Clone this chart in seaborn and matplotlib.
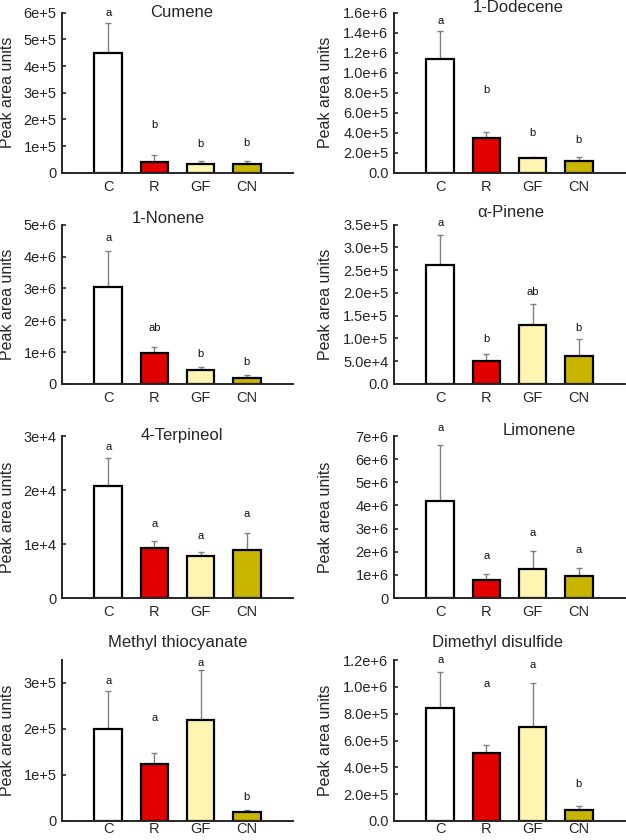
import numpy as np
import pandas as pd
import matplotlib
matplotlib.use("Agg")
import matplotlib.pyplot as plt
import seaborn as sns

# ---------------- data ----------------
treatments = ["C", "R", "GF", "CN"]
bar_colors = ["#ffffff", "#e30000", "#fff5b3", "#c9b400"]

cumene_mean = [4.50e5, 0.40e5, 0.33e5, 0.31e5]
cumene_err = [1.10e5, 0.27e5, 0.12e5, 0.11e5]
cumene_letters = ["a", "b", "b", "b"]
cumene_letter_y = [5.98e5, 1.79e5, 1.08e5, 1.13e5]
cumene_ticks = [0, 1e5, 2e5, 3e5, 4e5, 5e5, 6e5]
cumene_ticklabels = ["0", "1e+5", "2e+5", "3e+5", "4e+5", "5e+5", "6e+5"]

dodecene_mean = [1.14e6, 0.351e6, 0.147e6, 0.117e6]
dodecene_err = [0.28e6, 0.06e6, 0.013e6, 0.043e6]
dodecene_letters = ["a", "b", "b", "b"]
dodecene_letter_y = [1.52e6, 0.83e6, 0.40e6, 0.33e6]
dodecene_ticks = [0, 2e5, 4e5, 6e5, 8e5, 1.0e6, 1.2e6, 1.4e6, 1.6e6]
dodecene_ticklabels = ["0.0", "2.0e+5", "4.0e+5", "6.0e+5", "8.0e+5",
                       "1.0e+6", "1.2e+6", "1.4e+6", "1.6e+6"]

nonene_mean = [3.03e6, 0.96e6, 0.44e6, 0.20e6]
nonene_err = [1.13e6, 0.19e6, 0.09e6, 0.07e6]
nonene_letters = ["a", "ab", "b", "b"]
nonene_letter_y = [4.58e6, 1.75e6, 0.93e6, 0.68e6]
nonene_ticks = [0, 1e6, 2e6, 3e6, 4e6, 5e6]
nonene_ticklabels = ["0", "1e+6", "2e+6", "3e+6", "4e+6", "5e+6"]

pinene_mean = [2.61e5, 0.51e5, 1.29e5, 0.61e5]
pinene_err = [0.67e5, 0.15e5, 0.47e5, 0.37e5]
pinene_letters = ["a", "b", "ab", "b"]
pinene_letter_y = [3.54e5, 0.98e5, 2.02e5, 1.22e5]
pinene_ticks = [0, 5e4, 1.0e5, 1.5e5, 2.0e5, 2.5e5, 3.0e5, 3.5e5]
pinene_ticklabels = ["0.0", "5.0e+4", "1.0e+5", "1.5e+5", "2.0e+5",
                     "2.5e+5", "3.0e+5", "3.5e+5"]

terpineol_mean = [2.08e4, 0.92e4, 0.77e4, 0.88e4]
terpineol_err = [0.51e4, 0.13e4, 0.08e4, 0.32e4]
terpineol_letters = ["a", "a", "a", "a"]
terpineol_letter_y = [2.79e4, 1.37e4, 1.15e4, 1.56e4]
terpineol_ticks = [0, 1e4, 2e4, 3e4]
terpineol_ticklabels = ["0", "1e+4", "2e+4", "3e+4"]

limonene_mean = [4.20e6, 0.76e6, 1.24e6, 0.94e6]
limonene_err = [2.41e6, 0.28e6, 0.81e6, 0.34e6]
limonene_letters = ["a", "a", "a", "a"]
limonene_letter_y = [7.34e6, 1.80e6, 2.83e6, 2.08e6]
limonene_ticks = [0, 1e6, 2e6, 3e6, 4e6, 5e6, 6e6, 7e6]
limonene_ticklabels = ["0", "1e+6", "2e+6", "3e+6", "4e+6", "5e+6", "6e+6", "7e+6"]

methyl_mean = [2.01e5, 1.24e5, 2.20e5, 0.20e5]
methyl_err = [0.82e5, 0.23e5, 1.08e5, 0.03e5]
methyl_letters = ["a", "a", "a", "b"]
methyl_letter_y = [3.05e5, 2.24e5, 3.43e5, 0.52e5]
methyl_ticks = [0, 1e5, 2e5, 3e5]
methyl_ticklabels = ["0", "1e+5", "2e+5", "3e+5"]

dimethyl_mean = [0.844e6, 0.507e6, 0.698e6, 0.083e6]
dimethyl_err = [0.27e6, 0.058e6, 0.33e6, 0.027e6]
dimethyl_letters = ["a", "a", "a", "b"]
dimethyl_letter_y = [1.20e6, 1.02e6, 1.16e6, 0.276e6]
dimethyl_ticks = [0, 2e5, 4e5, 6e5, 8e5, 1.0e6, 1.2e6]
dimethyl_ticklabels = ["0.0", "2.0e+5", "4.0e+5", "6.0e+5", "8.0e+5", "1.0e+6", "1.2e+6"]

titles = ["Cumene", "1-Dodecene", "1-Nonene", "α-Pinene",
          "4-Terpineol", "Limonene", "Methyl thiocyanate", "Dimethyl disulfide"]
ylims = [6e5, 1.6e6, 5e6, 3.5e5, 3e4, 7e6, 3.5e5, 1.2e6]

panels = [
    (cumene_mean, cumene_err, cumene_letters, cumene_letter_y, cumene_ticks, cumene_ticklabels),
    (dodecene_mean, dodecene_err, dodecene_letters, dodecene_letter_y, dodecene_ticks, dodecene_ticklabels),
    (nonene_mean, nonene_err, nonene_letters, nonene_letter_y, nonene_ticks, nonene_ticklabels),
    (pinene_mean, pinene_err, pinene_letters, pinene_letter_y, pinene_ticks, pinene_ticklabels),
    (terpineol_mean, terpineol_err, terpineol_letters, terpineol_letter_y, terpineol_ticks, terpineol_ticklabels),
    (limonene_mean, limonene_err, limonene_letters, limonene_letter_y, limonene_ticks, limonene_ticklabels),
    (methyl_mean, methyl_err, methyl_letters, methyl_letter_y, methyl_ticks, methyl_ticklabels),
    (dimethyl_mean, dimethyl_err, dimethyl_letters, dimethyl_letter_y, dimethyl_ticks, dimethyl_ticklabels),
]

# ---------------- layout (pixels) ----------------
W, H = 626, 840
col_left = [62, 394]
ax_w = 231
row_top = [12.7, 224.7, 436, 660]
row_bot = [172.7, 384, 598, 821]
title_pos = [(0.52, 1.00), (0.537, 1.035), (0.46, 1.04), (0.506, 1.075),
             (0.52, 1.006), (0.63, 1.037), (0.50, 1.106), (0.45, 1.11)]
ylabel_x = [-0.205, -0.262]
xlabel_pad = [5, 5, 5, 1]

sns.set_style("ticks")
plt.rcParams["font.family"] = ["Liberation Sans", "DejaVu Sans"]

fig = plt.figure(figsize=(W / 100, H / 100), dpi=100)

for i, (mean, err, letters, letter_y, ticks, ticklabels) in enumerate(panels):
    r, c = divmod(i, 2)
    left = col_left[c] / W
    bottom = 1 - row_bot[r] / H
    height = (row_bot[r] - row_top[r]) / H
    ax = fig.add_axes([left, bottom, ax_w / W, height])

    df = pd.DataFrame({"treatment": treatments, "value": mean})
    sns.barplot(data=df, x="treatment", y="value", hue="treatment",
                palette=bar_colors, legend=False, order=treatments,
                saturation=1, edgecolor="black", linewidth=1.6, width=0.6,
                errorbar=None, ax=ax, zorder=2)
    xs = np.arange(len(treatments))
    ax.errorbar(xs, mean, yerr=[np.zeros(len(err)), err], fmt="none",
                ecolor="#808080", elinewidth=1.0, capsize=2.2, capthick=1.0,
                zorder=1)
    for x, lt, ly in zip(xs, letters, letter_y):
        ax.text(x, ly, lt, ha="center", va="center", fontsize=8,
                color="#111111", clip_on=False)

    ax.set_xlim(-1, 4)
    ax.set_ylim(0, ylims[i])
    ax.set_yticks(ticks)
    ax.set_yticklabels(ticklabels)
    ax.tick_params(axis="y", direction="in", length=3, width=1.2,
                   labelsize=10.5, pad=4)
    ax.tick_params(axis="x", length=0, labelsize=10.5, pad=xlabel_pad[r])
    ax.set_xlabel("")
    ax.set_ylabel("Peak area units", fontsize=11.5)
    ax.yaxis.set_label_coords(ylabel_x[c], 0.5)
    for s in ["top", "right"]:
        ax.spines[s].set_visible(False)
    for s in ["left", "bottom"]:
        ax.spines[s].set_linewidth(1.4)
    tx, ty = title_pos[i]
    ax.text(tx, ty, titles[i], transform=ax.transAxes, ha="center",
            va="center", fontsize=12)

fig.savefig("out.png", dpi=100)
